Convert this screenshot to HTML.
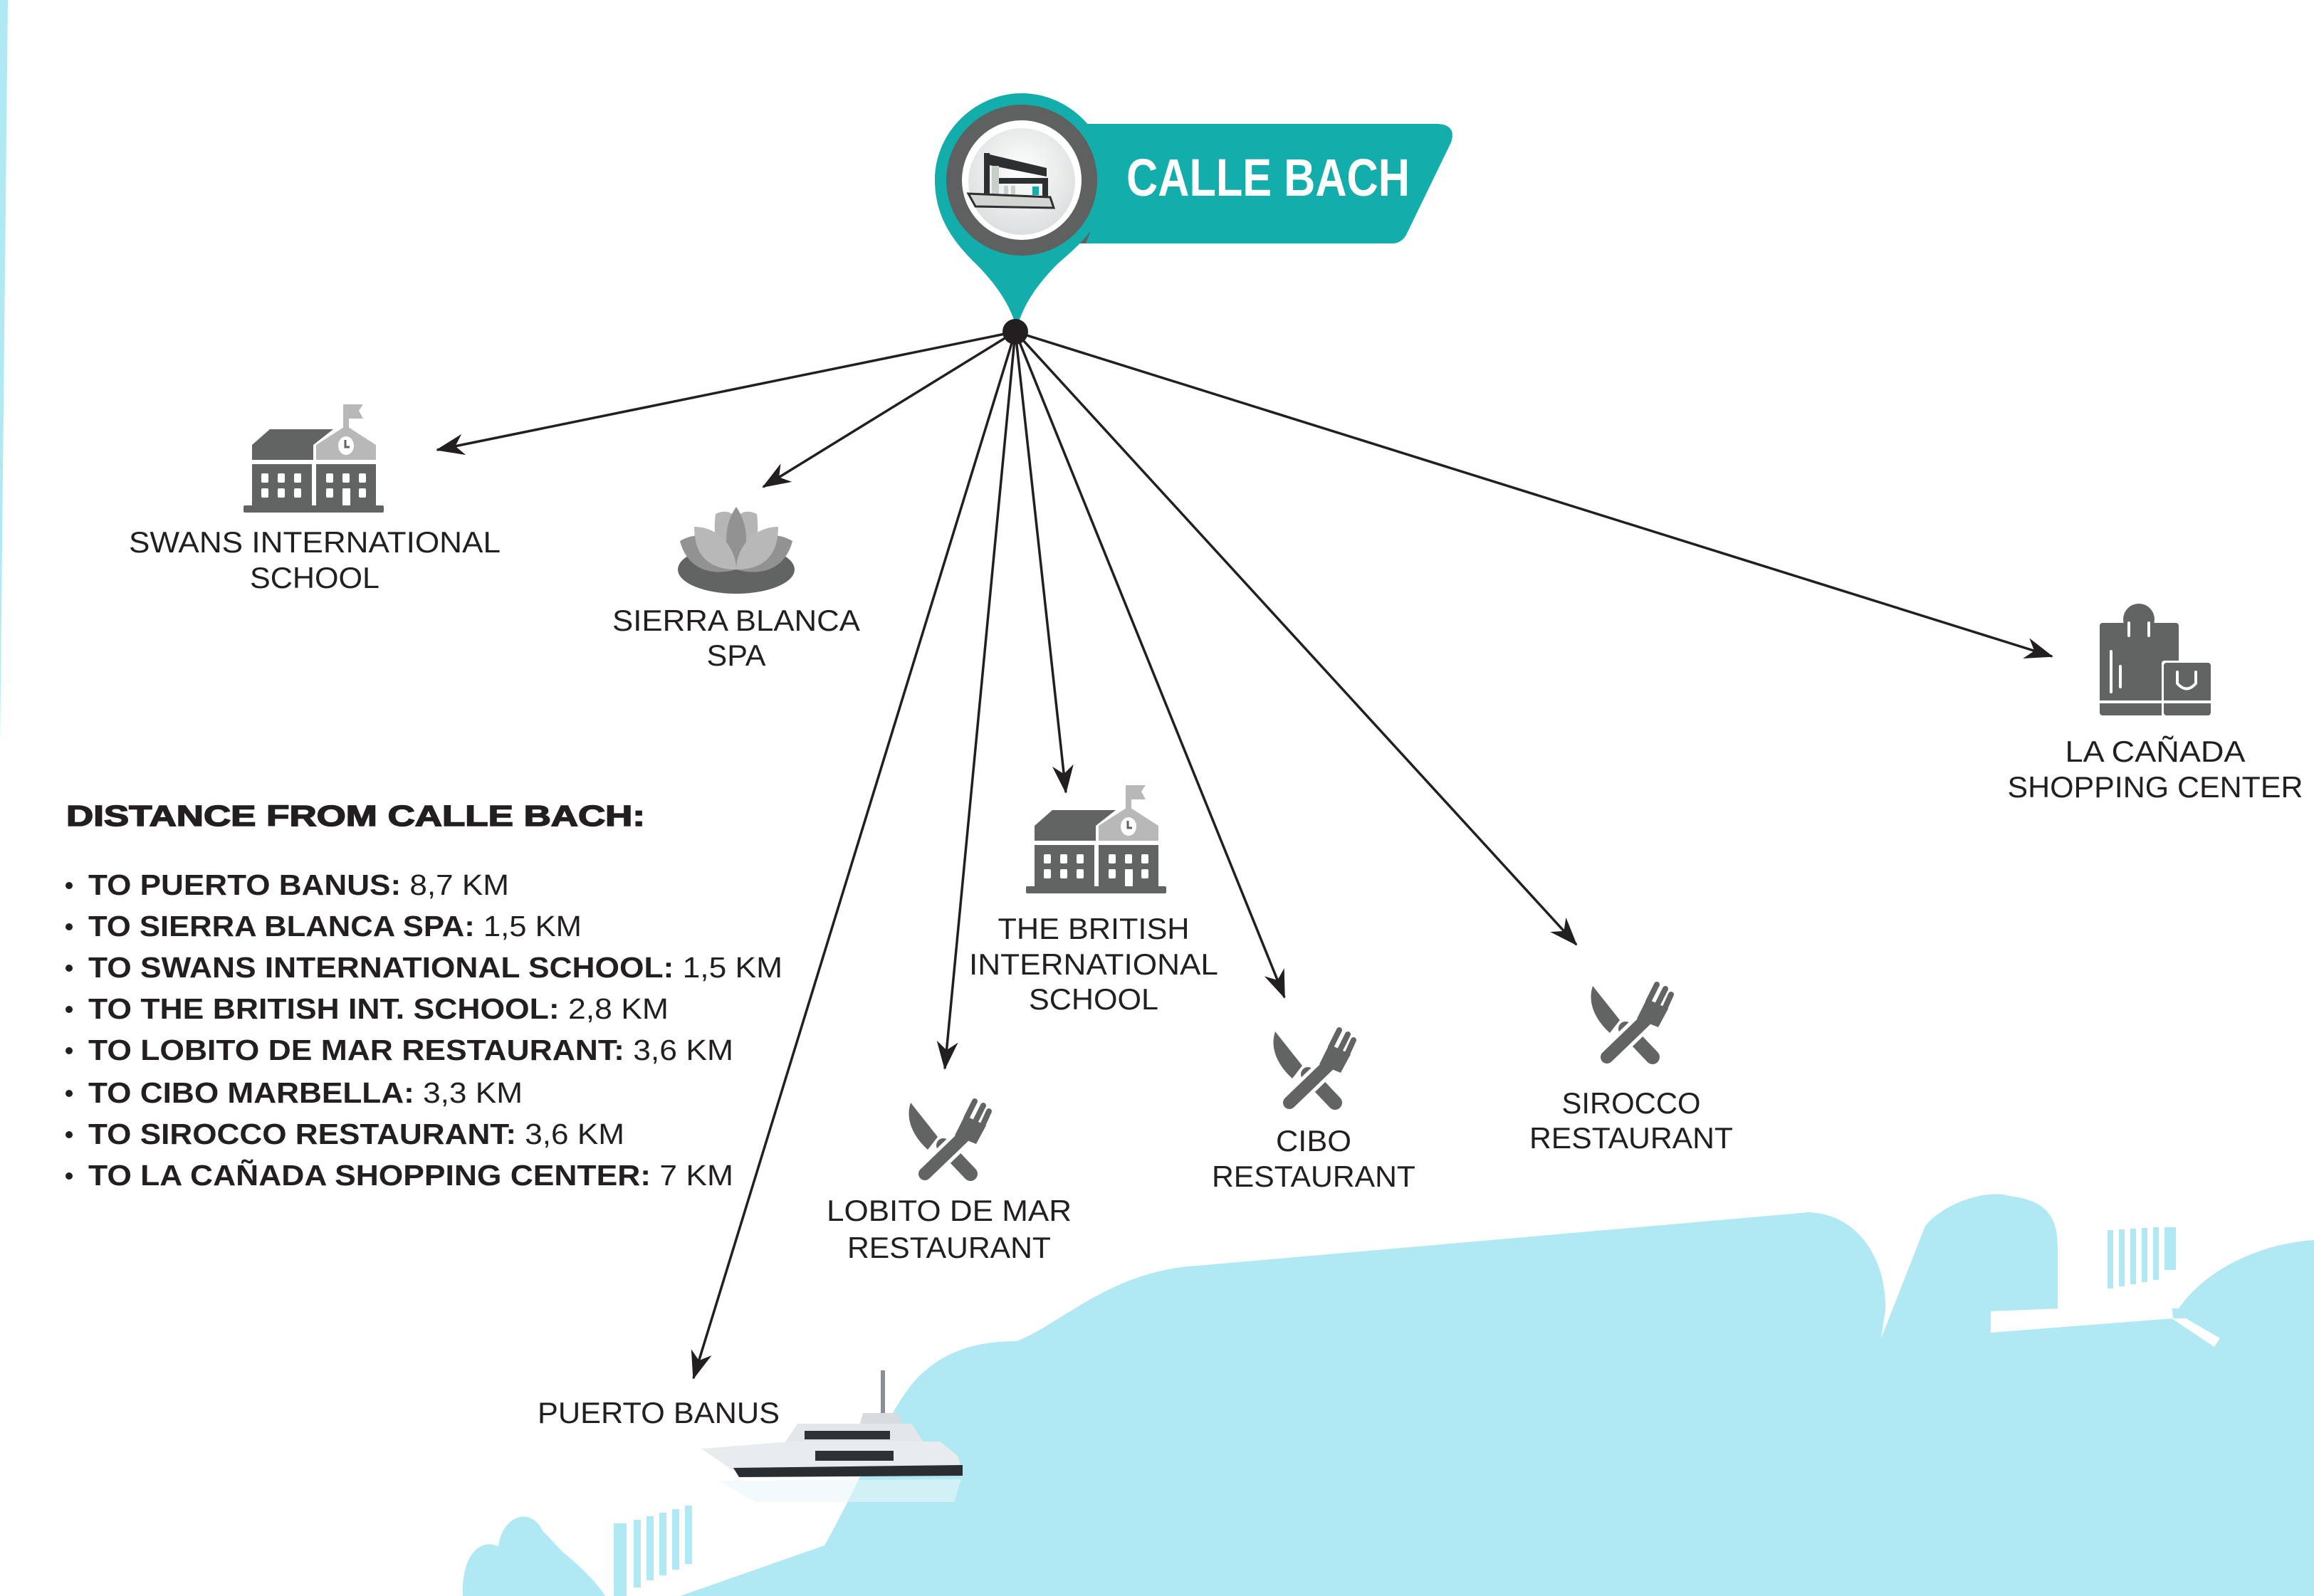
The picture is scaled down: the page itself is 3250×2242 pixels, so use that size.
<!DOCTYPE html>
<html><head><meta charset="utf-8"><style>
html,body{margin:0;padding:0;background:#fff;}
svg{display:block;}
.l{font-family:"Liberation Sans",sans-serif;font-size:42px;fill:#231f20;text-anchor:middle;}
.d{font-family:"Liberation Sans",sans-serif;font-size:41px;fill:#231f20;}
.b{font-weight:bold;}
</style></head><body>
<svg width="3250" height="2242" viewBox="0 0 3250 2242" xmlns="http://www.w3.org/2000/svg">
<defs>
<marker id="ar" markerUnits="userSpaceOnUse" markerWidth="60" markerHeight="40" refX="0" refY="0" viewBox="-40 -20 44 40" orient="auto">
<path d="M2,0 L-38,-15 L-26,0 L-38,15 Z" fill="#231f20"/>
</marker>
<radialGradient id="ing" cx="0.5" cy="0.4" r="0.6"><stop offset="0" stop-color="#ffffff"/><stop offset="1" stop-color="#dcdedf"/></radialGradient>
<g id="school">
<rect x="140" y="0" width="8" height="36" fill="#b8b8b8"/>
<polygon points="146,0 168,0 162,9 168,20 146,20" fill="#b8b8b8"/>
<polygon points="12,78 12,57 37,35 126,35 98,57 98,78" fill="#626463"/>
<polygon points="102,78 102,57 144,30 186,57 186,78" fill="#b8b8b8"/>
<ellipse cx="144" cy="58" rx="11" ry="13" fill="#fff"/>
<path d="M143,50 L143,60 L149,60" stroke="#626463" stroke-width="3" fill="none"/>
<rect x="12" y="84" width="84" height="60" fill="#626463"/>
<rect x="102" y="84" width="84" height="60" fill="#626463"/>
<rect x="0" y="142" width="197" height="10" rx="2" fill="#626463"/>
<g fill="#fff">
<rect x="25" y="97" width="10" height="13" rx="2"/><rect x="48" y="97" width="10" height="13" rx="2"/><rect x="71" y="97" width="10" height="13" rx="2"/>
<rect x="25" y="118" width="10" height="13" rx="2"/><rect x="48" y="118" width="10" height="13" rx="2"/><rect x="71" y="118" width="10" height="13" rx="2"/>
<rect x="116" y="97" width="10" height="13" rx="2"/><rect x="139" y="97" width="10" height="13" rx="2"/><rect x="162" y="97" width="10" height="13" rx="2"/>
<rect x="116" y="118" width="10" height="13" rx="2"/><rect x="139" y="118" width="11" height="24" rx="1"/><rect x="162" y="118" width="10" height="13" rx="2"/>
</g>
</g>
<g id="rest" fill="#626463">
<path d="M4,4 C-4,28 8,52 28,70 L42,52 Z"/>
<line x1="50" y1="64" x2="88" y2="104" stroke="#626463" stroke-width="20" stroke-linecap="round"/>
<line x1="78" y1="52" x2="24" y2="104" stroke="#fff" stroke-width="28" stroke-linecap="round"/>
<line x1="78" y1="52" x2="24" y2="104" stroke="#626463" stroke-width="18" stroke-linecap="round"/>
<path d="M66,50 L80,22 L110,36 L96,62 Z"/>
<line x1="82" y1="26" x2="94" y2="2" stroke="#626463" stroke-width="8" stroke-linecap="round"/>
<line x1="94" y1="32" x2="106" y2="8" stroke="#626463" stroke-width="8" stroke-linecap="round"/>
<line x1="104" y1="38" x2="114" y2="16" stroke="#626463" stroke-width="8" stroke-linecap="round"/>
</g>
</defs>

<!-- left strip -->
<polygon points="0,0 11,0 0,1050" fill="#b0e9f3"/>

<!-- sea -->
<path d="M955,2242 L1158,2171 C1220,2060 1255,1960 1300,1925 C1340,1890 1390,1884 1428,1884 C1490,1860 1560,1785 1682,1778 L2540,1703 C2610,1705 2650,1770 2648,1840 L2642,1880 L2704,1722 C2730,1690 2790,1670 2822,1680 C2870,1686 2890,1705 2890,1752 L2890,1840 L3060,1838 C3100,1780 3180,1746 3250,1742 L3250,2242 Z" fill="#b0e9f3"/>
<polygon points="2796,1842 3050,1832 3052,1852 2796,1872" fill="#fff"/>
<polygon points="3050,1852 3070,1852 3118,1880 3110,1892" fill="#fff"/>
<g fill="#b0e9f3">
<rect x="2868" y="1755" width="22" height="55"/>
<rect x="2960" y="1728" width="8" height="82"/><rect x="2976" y="1727" width="8" height="80"/><rect x="2992" y="1726" width="8" height="78"/><rect x="3008" y="1725" width="8" height="76"/><rect x="3024" y="1724" width="8" height="74"/><rect x="3040" y="1724" width="16" height="60"/>
</g>
<path d="M650,2242 C648,2190 670,2160 700,2172 C705,2130 745,2115 762,2150 L790,2180 C815,2200 840,2225 850,2242 Z" fill="#b0e9f3"/>
<g fill="#b0e9f3">
<rect x="862" y="2140" width="18" height="102"/><rect x="890" y="2135" width="10" height="95"/><rect x="908" y="2130" width="10" height="90"/><rect x="926" y="2125" width="10" height="88"/><rect x="944" y="2120" width="10" height="85"/><rect x="962" y="2115" width="10" height="82"/>
</g>

<!-- yacht -->
<g>
<line x1="1240" y1="1925" x2="1240" y2="1990" stroke="#8a9094" stroke-width="6"/>
<polygon points="1212,1985 1262,1985 1268,2010 1205,2010" fill="#d8dcdf"/>
<polygon points="1120,2000 1280,2000 1300,2030 1100,2030" fill="#e4e7e9"/>
<rect x="1130" y="2010" width="120" height="12" fill="#2d3236"/>
<polygon points="985,2035 1110,2025 1320,2025 1345,2045 1350,2062 1030,2066" fill="#e9ecee"/>
<rect x="1145" y="2038" width="110" height="14" fill="#2d3236"/>
<polygon points="1030,2062 1352,2058 1352,2073 1038,2075" fill="#2a2e31"/>
<polygon points="1010,2080 1350,2078 1340,2110 1060,2110" fill="#e9f7fa" opacity="0.6"/>
</g>

<!-- connectors -->
<g stroke="#231f20" stroke-width="3.5" fill="none" marker-end="url(#ar)">
<line x1="1426" y1="466" x2="614" y2="632"/>
<line x1="1426" y1="466" x2="1072" y2="684"/>
<line x1="1426" y1="466" x2="974" y2="1936"/>
<line x1="1426" y1="466" x2="1327" y2="1501"/>
<line x1="1426" y1="466" x2="1497" y2="1113"/>
<line x1="1426" y1="466" x2="1804" y2="1401"/>
<line x1="1426" y1="466" x2="2214" y2="1327"/>
<line x1="1426" y1="466" x2="2882" y2="922"/>
</g>

<!-- pin & banner -->
<path d="M1500,174 L2020,174 Q2046,176 2038,200 L1975,330 Q1968,342 1955,342 L1500,342 Z" fill="#13adab"/>
<path d="M1490,174 L1525,174 Q1560,258 1525,342 L1490,342 Z" fill="#5f6160"/>
<path d="M1435,131 C1370,131 1313,185 1313,253 C1313,310 1345,345 1370,370 C1400,400 1420,430 1428,462 C1436,430 1456,400 1486,370 C1515,345 1557,310 1557,253 C1557,185 1500,131 1435,131 Z" fill="#13adab"/>
<circle cx="1435" cy="253" r="106" fill="#5f6160"/>
<circle cx="1435" cy="253" r="84" fill="#fff"/>
<circle cx="1435" cy="255" r="75" fill="url(#ing)"/>
<g>
<polygon points="1382,215 1470,236 1470,248 1390,232" fill="#2d2f30"/>
<rect x="1382" y="215" width="8" height="62" fill="#2d2f30"/>
<rect x="1393" y="233" width="10" height="40" fill="#c8cfc9"/>
<rect x="1403" y="250" width="68" height="8" fill="#2d2f30"/>
<rect x="1464" y="250" width="8" height="27" fill="#2d2f30"/>
<rect x="1450" y="262" width="9" height="12" fill="#13adab"/>
<rect x="1410" y="261" width="6" height="14" fill="#c8cfc9"/>
<rect x="1420" y="261" width="6" height="14" fill="#c8cfc9"/>
<polygon points="1360,272 1475,277 1480,292 1370,290" fill="#d2d6d3" stroke="#2d2f30" stroke-width="3"/>
</g>
<circle cx="1426" cy="466" r="18" fill="#231f20"/>
<text x="1582" y="275" font-family="Liberation Sans,sans-serif" font-weight="bold" font-size="74" fill="#fff" textLength="398" lengthAdjust="spacingAndGlyphs">CALLE BACH</text>

<!-- icons -->
<use href="#school" x="342" y="568"/>
<use href="#school" x="1441" y="1103"/>
<g transform="translate(1275,1545)"><use href="#rest"/></g>
<g transform="translate(1787,1445)"><use href="#rest"/></g>
<g transform="translate(2233,1381)"><use href="#rest"/></g>
<!-- lotus -->
<g>
<ellipse cx="1034" cy="800" rx="82" ry="34" fill="#626463"/>
<path d="M955,760 C990,740 1020,760 1034,800 C1000,810 965,800 955,760 Z" fill="#929292"/>
<path d="M1113,760 C1078,740 1048,760 1034,800 C1068,810 1103,800 1113,760 Z" fill="#929292"/>
<path d="M1005,722 C1020,715 1030,720 1034,730 L1034,800 C1010,790 1000,760 1005,722 Z" fill="#b5b5b5"/>
<path d="M1063,722 C1048,715 1038,720 1034,730 L1034,800 C1058,790 1068,760 1063,722 Z" fill="#b5b5b5"/>
<path d="M1034,712 C1050,735 1055,770 1034,800 C1013,770 1018,735 1034,712 Z" fill="#929292"/>
<path d="M975,740 C1010,740 1034,770 1034,800 C995,800 975,780 975,740 Z" fill="#b8b8b8"/>
<path d="M1093,740 C1058,740 1034,770 1034,800 C1073,800 1093,780 1093,740 Z" fill="#b8b8b8"/>
</g>
<!-- shopping -->
<g fill="#626463">
<circle cx="3004" cy="870" r="22"/>
<rect x="2949" y="875" width="111" height="130" rx="4"/>
<rect x="3036" y="928" width="72" height="80" fill="#fff" rx="4"/>
<rect x="3039" y="931" width="66" height="74" rx="4"/>
<g stroke="#fff" stroke-width="4" fill="none" stroke-linecap="round">
<path d="M2990,875 L2990,893 M3018,875 L3018,893"/>
<line x1="2965" y1="915" x2="2965" y2="972"/><line x1="2978" y1="936" x2="2978" y2="965"/>
<path d="M3058,944 L3058,960 Q3071,975 3084,960 L3084,944"/>
<line x1="2949" y1="986" x2="3038" y2="986"/><line x1="3039" y1="986" x2="3105" y2="986"/>
</g>
</g>

<!-- labels -->
<text class="l" x="442" y="776" textLength="522" lengthAdjust="spacingAndGlyphs">SWANS INTERNATIONAL</text>
<text class="l" x="442" y="826" textLength="182" lengthAdjust="spacingAndGlyphs">SCHOOL</text>
<text class="l" x="1034" y="886" textLength="348" lengthAdjust="spacingAndGlyphs">SIERRA BLANCA</text>
<text class="l" x="1034" y="935" textLength="83" lengthAdjust="spacingAndGlyphs">SPA</text>
<text class="l" x="1536" y="1319" textLength="269" lengthAdjust="spacingAndGlyphs">THE BRITISH</text>
<text class="l" x="1536" y="1369" textLength="350" lengthAdjust="spacingAndGlyphs">INTERNATIONAL</text>
<text class="l" x="1536" y="1418" textLength="182" lengthAdjust="spacingAndGlyphs">SCHOOL</text>
<text class="l" x="1333" y="1715" textLength="344" lengthAdjust="spacingAndGlyphs">LOBITO DE MAR</text>
<text class="l" x="1333" y="1767" textLength="286" lengthAdjust="spacingAndGlyphs">RESTAURANT</text>
<text class="l" x="1845" y="1617" textLength="106" lengthAdjust="spacingAndGlyphs">CIBO</text>
<text class="l" x="1845" y="1667" textLength="286" lengthAdjust="spacingAndGlyphs">RESTAURANT</text>
<text class="l" x="2291" y="1564" textLength="195" lengthAdjust="spacingAndGlyphs">SIROCCO</text>
<text class="l" x="2291" y="1613" textLength="286" lengthAdjust="spacingAndGlyphs">RESTAURANT</text>
<text class="l" x="3027" y="1070" textLength="253" lengthAdjust="spacingAndGlyphs">LA CAÑADA</text>
<text class="l" x="3027" y="1120" textLength="415" lengthAdjust="spacingAndGlyphs">SHOPPING CENTER</text>
<text class="l" x="925" y="1999" textLength="340" lengthAdjust="spacingAndGlyphs">PUERTO BANUS</text>

<!-- distance list -->
<text class="d b" x="93" y="1160" font-size="52" textLength="813" lengthAdjust="spacingAndGlyphs" stroke="#231f20" stroke-width="1.5">DISTANCE FROM CALLE BACH:</text>
<g fill="#231f20">
<circle cx="97" cy="1244" r="5"/><circle cx="97" cy="1302" r="5"/><circle cx="97" cy="1360" r="5"/><circle cx="97" cy="1418" r="5"/>
<circle cx="97" cy="1476" r="5"/><circle cx="97" cy="1536" r="5"/><circle cx="97" cy="1594" r="5"/><circle cx="97" cy="1652" r="5"/>
</g>
<text class="d" x="124" y="1257" textLength="591" lengthAdjust="spacingAndGlyphs"><tspan class="b">TO PUERTO BANUS:</tspan> 8,7 KM</text>
<text class="d" x="124" y="1315" textLength="693" lengthAdjust="spacingAndGlyphs"><tspan class="b">TO SIERRA BLANCA SPA:</tspan> 1,5 KM</text>
<text class="d" x="124" y="1373" textLength="975" lengthAdjust="spacingAndGlyphs"><tspan class="b">TO SWANS INTERNATIONAL SCHOOL:</tspan> 1,5 KM</text>
<text class="d" x="124" y="1431" textLength="815" lengthAdjust="spacingAndGlyphs"><tspan class="b">TO THE BRITISH INT. SCHOOL:</tspan> 2,8 KM</text>
<text class="d" x="124" y="1489" textLength="906" lengthAdjust="spacingAndGlyphs"><tspan class="b">TO LOBITO DE MAR RESTAURANT:</tspan> 3,6 KM</text>
<text class="d" x="124" y="1549" textLength="610" lengthAdjust="spacingAndGlyphs"><tspan class="b">TO CIBO MARBELLA:</tspan> 3,3 KM</text>
<text class="d" x="124" y="1607" textLength="753" lengthAdjust="spacingAndGlyphs"><tspan class="b">TO SIROCCO RESTAURANT:</tspan> 3,6 KM</text>
<text class="d" x="124" y="1665" textLength="906" lengthAdjust="spacingAndGlyphs"><tspan class="b">TO LA CAÑADA SHOPPING CENTER:</tspan> 7 KM</text>
</svg>
</body></html>
